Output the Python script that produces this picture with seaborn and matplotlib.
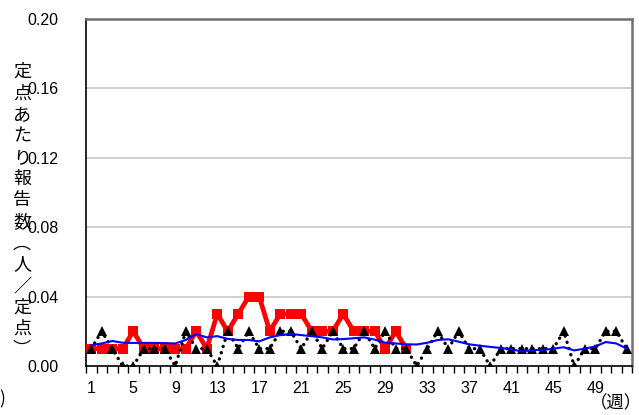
import matplotlib
matplotlib.use("Agg")
import matplotlib.pyplot as plt
import seaborn as sns
import numpy as np

# ---- data ----
weeks = list(range(1, 53))
current = [0.01, 0.01, 0.01, 0.01, 0.02, 0.01, 0.01, 0.01, 0.01, 0.01,
           0.02, 0.01, 0.03, 0.02, 0.03, 0.04, 0.04, 0.02, 0.03, 0.03,
           0.03, 0.02, 0.02, 0.02, 0.03, 0.02, 0.02, 0.02, 0.01, 0.02,
           0.01]
previous = [0.01, 0.02, 0.01, 0.00, 0.00, 0.01, 0.01, 0.01, 0.00, 0.02,
            0.01, 0.01, 0.00, 0.02, 0.01, 0.02, 0.01, 0.01, 0.02, 0.02,
            0.01, 0.02, 0.01, 0.02, 0.01, 0.01, 0.02, 0.01, 0.02, 0.01,
            0.01, 0.00, 0.01, 0.02, 0.01, 0.02, 0.01, 0.01, 0.00, 0.01,
            0.01, 0.01, 0.01, 0.01, 0.01, 0.02, 0.00, 0.01, 0.01, 0.02,
            0.02, 0.01]
average = [0.0120, 0.0130, 0.0144, 0.0134, 0.0133, 0.0133, 0.0133, 0.0132, 0.0130, 0.0150,
           0.0184, 0.0165, 0.0172, 0.0156, 0.0150, 0.0150, 0.0142, 0.0165, 0.0178, 0.0185,
           0.0178, 0.0172, 0.0165, 0.0153, 0.0155, 0.0160, 0.0165, 0.0152, 0.0134, 0.0130,
           0.0125, 0.0124, 0.0134, 0.0150, 0.0154, 0.0140, 0.0125, 0.0117, 0.0110, 0.0104,
           0.0097, 0.0083, 0.0092, 0.0092, 0.0100, 0.0108, 0.0090, 0.0100, 0.0113, 0.0138,
           0.0130, 0.0100]
tick_weeks = [1, 5, 9, 13, 17, 21, 25, 29, 33, 37, 41, 45, 49]
yticks = [0.00, 0.04, 0.08, 0.12, 0.16, 0.20]
ylabel_chars = list("定点あたり報告数︵人／定点︶")
xunit = "（週）"

sns.set_theme(style="white")
plt.rcParams["font.family"] = ["Liberation Sans", "Noto Sans CJK JP", "DejaVu Sans"]

W, H = 639, 415
fig = plt.figure(figsize=(W / 100, H / 100), dpi=100)
fig.patch.set_facecolor("white")
ax = fig.add_axes([86 / W, 1 - 366 / H, (632 - 86) / W, (366 - 19) / H])
ax.set_facecolor("white")

sns.lineplot(x=weeks[:len(current)], y=current, ax=ax, color="#ff0000",
             linewidth=3.4, marker="s", markersize=7.5, markeredgewidth=0, zorder=3)
sns.lineplot(x=weeks, y=previous, ax=ax, color="black", linewidth=2.4,
             linestyle=(0, (0.05, 1.9)), dash_capstyle="round", marker="^",
             markersize=6.8, markeredgewidth=0, zorder=4)
sns.lineplot(x=weeks, y=average, ax=ax, color="#0000ff", linewidth=1.5, zorder=5)

ax.set_xlim(0.5, 52.5)
ax.set_ylim(0, 0.20)
ax.set_yticks(yticks)
ax.set_yticklabels([f"{v:.2f}" for v in yticks], fontsize=11.5, color="black")
ax.set_xticks(tick_weeks)
ax.set_xticklabels([str(w) for w in tick_weeks], fontsize=11.5, color="black")
ax.set_xticks(np.arange(0.5, 53, 1.0), minor=True)
ax.tick_params(axis="x", which="major", length=0, pad=11)
ax.tick_params(axis="x", which="minor", length=5, width=1, color="black", direction="out", bottom=True)
ax.tick_params(axis="y", length=0, pad=20)
ax.set_xlabel("")
ax.set_ylabel("")

for y in yticks[1:-1]:
    ax.axhline(y, color="#c8c8c8", linewidth=1.2, zorder=1)

for side in ["left", "bottom"]:
    ax.spines[side].set_color("black")
    ax.spines[side].set_linewidth(1.2)
for side in ["top", "right"]:
    ax.spines[side].set_color("#707070")
    ax.spines[side].set_linewidth(1.8)

jp = ["Noto Sans CJK JP", "DejaVu Sans"]
y0, dy = 72, 21.4
for i, ch in enumerate(ylabel_chars):
    fig.text(22 / W, 1 - (y0 + i * dy) / H, ch, ha="center", va="center",
             fontsize=13, family=jp, color="black")

fig.text(590 / W, 1 - 403 / H, xunit, ha="left", va="center",
         fontsize=12.5, family=jp, color="black")
fig.text(5 / W, 1 - 399 / H, ")", ha="right", va="center",
         fontsize=12.5, family=jp, color="black")

fig.savefig("out.png", dpi=100)
